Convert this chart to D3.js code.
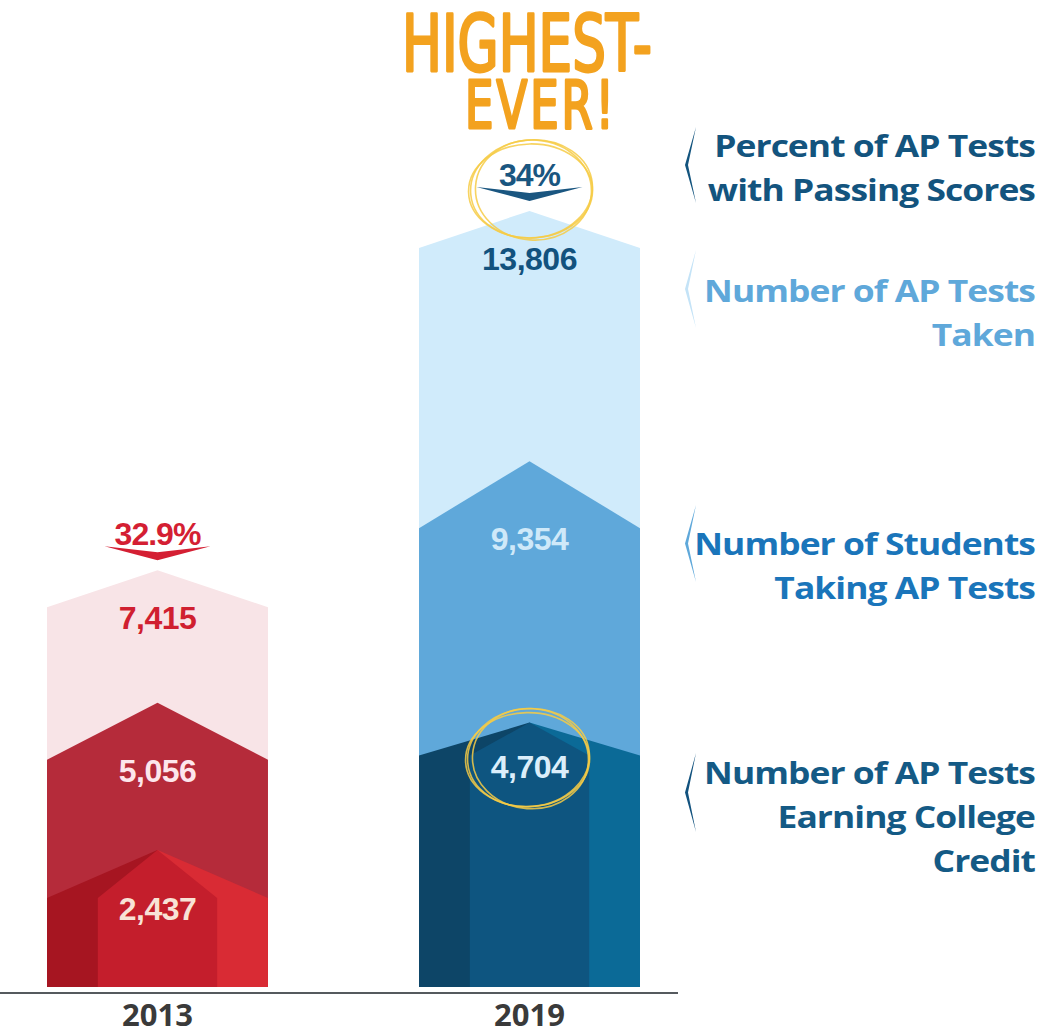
<!DOCTYPE html>
<html>
<head>
<meta charset="utf-8">
<script src="https://cdn.jsdelivr.net/npm/d3@7"></script>
<style>
  body { margin: 0; background: #fff; }
  #dataViz { width: 1043px; height: 1034px; }
</style>
</head>
<body>
<div id="dataViz"></div>
<script>
// Chart values
const years = ["2013", "2019"];
const testsTaken = [7415, 13806];
const studentsTaking = [5056, 9354];
const testsCredit = [2437, 4704];
const passRate = [32.9, 34];
const legendLabels = [
  ["Percent of AP Tests", "with Passing Scores"],
  ["Number of AP Tests", "Taken"],
  ["Number of Students", "Taking AP Tests"],
  ["Number of AP Tests", "Earning College", "Credit"]
];
const callout = ["HIGHEST-", "EVER!"];

const width = document.querySelector("#dataViz").clientWidth;
const height = document.querySelector("#dataViz").clientHeight;
const baseY = 987;

const colours = {
  "2013": {
    taken: "#f8e4e7", students: "#b52b3a",
    creditL: "#a61521", creditC: "#c41e2c", creditR: "#d92b34",
    takenText: "#d01f30", studentsText: "#fde6ec", creditText: "#f8e2d6", pct: "#d41f33"
  },
  "2019": {
    taken: "#d0ebfb", students: "#5fa8da",
    creditL: "#0d4567", creditC: "#0e5580", creditR: "#0b6a97",
    takenText: "#12527e", studentsText: "#cfe9f9", creditText: "#dbeefa", pct: "#1a5680"
  }
};

// shoulder drop of each roof (px)
const roofDrop = {
  "2013": { taken: 37, students: 57, credit: 48 },
  "2019": { taken: 37, students: 67, credit: 33 }
};

const legendStyle = [
  { y: 157, colour: "#13547e", bracket: [127, 203], bracketColour: "#13547e" },
  { y: 302, colour: "#5fa8da", bracket: [250, 328], bracketColour: "#c4e3f7" },
  { y: 555, colour: "#1a75ba", bracket: [505, 582], bracketColour: "#5fa8da" },
  { y: 784, colour: "#145a85", bracket: [753, 832], bracketColour: "#12527e" }
];

const container = d3.select("#dataViz");
const svg = container.append("svg")
  .attr("width", width)
  .attr("height", height)
  .attr("viewBox", [0, 0, width, height]);

// Scales
const xScale = d3.scaleBand()
  .domain(years)
  .range([47, 640])
  .paddingInner(0.406)
  .paddingOuter(0);

const yScale = d3.scaleLinear()
  .domain([0, 14000])
  .range([baseY, 200]);

const bw = xScale.bandwidth();

function roof(x0, x1, v, drop) {
  const peak = yScale(v);
  const cx = (x0 + x1) / 2;
  return [[x0, baseY], [x0, peak + drop], [cx, peak], [x1, peak + drop], [x1, baseY]];
}

const line = d3.line();

const rows = years.map((y, i) => ({
  year: y,
  taken: testsTaken[i],
  students: studentsTaking[i],
  credit: testsCredit[i],
  pct: passRate[i]
}));

const cols = svg.selectAll(".col")
  .data(rows)
  .enter()
  .append("g")
  .attr("class", "col");

// Tests taken (back layer)
cols.append("path")
  .attr("d", d => line(roof(xScale(d.year), xScale(d.year) + bw, d.taken, roofDrop[d.year].taken)))
  .style("fill", d => colours[d.year].taken);

// Students taking tests
cols.append("path")
  .attr("d", d => line(roof(xScale(d.year), xScale(d.year) + bw, d.students, roofDrop[d.year].students)))
  .style("fill", d => colours[d.year].students);

// Credit layer, drawn as a prism: left face, right face, centre face
const side = bw * 0.23;
cols.append("path")
  .attr("d", d => {
    const x0 = xScale(d.year), cx = x0 + bw / 2;
    const p = yScale(d.credit), s = p + roofDrop[d.year].credit;
    return line([[x0, baseY], [x0, s], [cx, p], [cx, baseY]]);
  })
  .style("fill", d => colours[d.year].creditL);

cols.append("path")
  .attr("d", d => {
    const x1 = xScale(d.year) + bw, cx = xScale(d.year) + bw / 2;
    const p = yScale(d.credit), s = p + roofDrop[d.year].credit;
    return line([[cx, baseY], [cx, p], [x1, s], [x1, baseY]]);
  })
  .style("fill", d => colours[d.year].creditR);

cols.append("path")
  .attr("d", d => {
    const x0 = xScale(d.year) + side, x1 = xScale(d.year) + bw - side;
    const cx = xScale(d.year) + bw / 2;
    const p = yScale(d.credit), s = p + roofDrop[d.year].credit;
    return line([[x0, baseY], [x0, s], [cx, p], [x1, s], [x1, baseY]]);
  })
  .style("fill", d => colours[d.year].creditC);

// Value labels
const fmt = d3.format(",");
const valueFont = "'Liberation Sans', Arial, sans-serif";

function valueLabel(key, textKey) {
  cols.append("text")
    .attr("x", d => xScale(d.year) + bw / 2)
    .attr("y", d => yScale(d[key]) + roofDrop[d.year][key] + 22)
    .attr("text-anchor", "middle")
    .style("font-family", valueFont)
    .style("font-weight", "bold")
    .style("font-size", "32px")
    .style("letter-spacing", "-0.5px")
    .style("fill", d => colours[d.year][textKey])
    .text(d => fmt(d[key]));
}
valueLabel("taken", "takenText");
valueLabel("students", "studentsText");
valueLabel("credit", "creditText");

// Percent chevrons above each column
cols.append("path")
  .attr("d", d => {
    const cx = xScale(d.year) + bw / 2;
    const tip = yScale(d.taken) - 10;
    return line([[cx - 53, tip - 14], [cx, tip - 8], [cx + 53, tip - 14], [cx, tip]]) + "Z";
  })
  .style("fill", d => colours[d.year].pct);

cols.append("text")
  .attr("x", d => xScale(d.year) + bw / 2)
  .attr("y", d => yScale(d.taken) - 25)
  .attr("text-anchor", "middle")
  .style("font-family", valueFont)
  .style("font-weight", "bold")
  .style("font-size", "32px")
  .style("letter-spacing", "-1px")
  .style("fill", d => colours[d.year].pct)
  .text(d => d.pct + "%");

// Yellow scribble rings around the 2019 highs
const last = rows[rows.length - 1];
const ringSpecs = [
  { rot: -5, dx: 0, dy: 0, rx: 61, ry: 49 },
  { rot: 4, dx: 2, dy: 1, rx: 58, ry: 50 },
  { rot: -1, dx: -1, dy: 2, rx: 62, ry: 47 }
];
const ringCentres = [
  [xScale(last.year) + bw / 2 + 2, yScale(last.taken) - 22],
  [xScale(last.year) + bw / 2 - 1, yScale(last.credit) + 35]
];
ringCentres.forEach(c => {
  svg.append("g")
    .attr("transform", `translate(${c[0]}, ${c[1]})`)
    .selectAll("ellipse")
    .data(ringSpecs)
    .enter()
    .append("ellipse")
    .attr("cx", d => d.dx)
    .attr("cy", d => d.dy)
    .attr("rx", d => d.rx)
    .attr("ry", d => d.ry)
    .attr("transform", d => `rotate(${d.rot})`)
    .style("fill", "none")
    .style("stroke", "#f6cb45")
    .style("stroke-width", 1.6)
    .style("opacity", 0.85);
});

// HIGHEST-EVER! callout, stretched condensed lettering in one text block
const calloutText = svg.append("text")
  .attr("transform", "translate(402, 71) scale(1, 1.33)")
  .style("font-family", "'Liberation Sans Narrow', 'DejaVu Sans Condensed', sans-serif")
  .style("fill", "#f3a21f")
  .style("stroke", "#f3a21f")
  .style("stroke-width", 2.2)
  .style("stroke-linejoin", "round");

calloutText.append("tspan")
  .attr("x", 0)
  .attr("y", 0)
  .style("font-size", "59px")
  .text(callout[0]);

calloutText.append("tspan")
  .attr("x", 63)
  .attr("y", 43)
  .style("font-size", "50px")
  .style("letter-spacing", "3px")
  .text(callout[1]);

// Baseline axis
svg.append("line")
  .attr("x1", 0)
  .attr("x2", 678)
  .attr("y1", 993)
  .attr("y2", 993)
  .style("stroke", "#555a5e")
  .style("stroke-width", 2);

const xAxis = d3.axisBottom(xScale).tickSize(0).tickPadding(0);
svg.append("g")
  .attr("class", "x-axis")
  .attr("transform", `translate(0, 1004)`)
  .call(xAxis)
  .call(g => g.select(".domain").remove())
  .selectAll("text")
  .attr("dy", "0.71em")
  .style("font-family", "'Open Sans', sans-serif")
  .style("font-weight", "bold")
  .style("font-size", "31px")
  .style("fill", "#3a3a3a");

// Legend labels on the right, widened to match the display face
const legend = svg.selectAll(".legend")
  .data(legendLabels)
  .enter()
  .append("g")
  .attr("class", "legend");

legend.each(function (lines, i) {
  const g = d3.select(this);
  const st = legendStyle[i];
  lines.forEach((t, j) => {
    g.append("text")
      .attr("transform", `translate(1035, ${st.y + j * 44}) scale(1.18, 1)`)
      .attr("text-anchor", "end")
      .style("font-family", "'Open Sans', sans-serif")
      .style("font-weight", "bold")
      .style("font-size", "30px")
      .style("letter-spacing", "-0.8px")
      .style("fill", st.colour)
      .text(t);
  });
  const [t0, t1] = st.bracket;
  const mid = (t0 + t1) / 2;
  g.append("path")
    .attr("d", line([[696, t0], [685, mid], [696, t1], [688, mid]]) + "Z")
    .style("fill", st.bracketColour);
});
</script>
</body>
</html>
